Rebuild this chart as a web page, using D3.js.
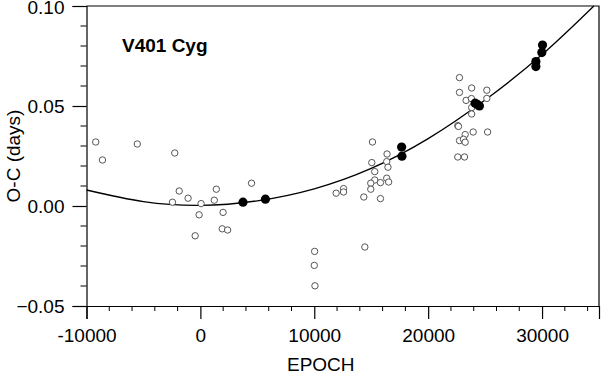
<!DOCTYPE html>
<html>
<head>
<meta charset="utf-8">
<script src="https://cdn.jsdelivr.net/npm/d3@7"></script>
<style>
  html, body { margin: 0; padding: 0; background: #fff; }
  svg { display: block; font-family: Arial, "Liberation Sans", sans-serif; }
</style>
</head>
<body>
<svg id="chart" width="601" height="374"></svg>
<script>
// open circles: [epoch, O-C]
const openEpoch = [-9190, -8600, -5540, -2250, -1860, -2450, -1080, 60, -110, -460,
  1400, 1220, 1990, 1920, 2390, 4490,
  15110, 16390, 15050, 16360, 16470, 15310, 15310, 14960, 15810, 16360, 16530, 14960,
  14350, 15810, 11920, 12570, 12570, 10030, 10000, 10060, 14440,
  22750, 22750, 23820, 25150, 23330, 23800, 25150, 23820, 23820, 22600, 22660,
  23250, 23950, 25220, 22750, 23100, 23250, 22600, 23190];
const openOC = [0.0320, 0.0230, 0.0310, 0.0265, 0.0075, 0.0019, 0.0039, 0.0012, -0.0044, -0.0149,
  0.0084, 0.0029, -0.0032, -0.0114, -0.0120, 0.0114,
  0.0320, 0.0260, 0.0217, 0.0222, 0.0194, 0.0172, 0.0130, 0.0114, 0.0117, 0.0139, 0.0120, 0.0084,
  0.0045, 0.0037, 0.0064, 0.0087, 0.0070, -0.0227, -0.0297, -0.0399, -0.0205,
  0.0642, 0.0568, 0.0590, 0.0579, 0.0528, 0.0537, 0.0538, 0.0492, 0.0460, 0.0402, 0.0398,
  0.0357, 0.0370, 0.0370, 0.0327, 0.0334, 0.0319, 0.0245, 0.0245];

// filled circles
const fillEpoch = [3740, 5710, 17670, 17700, 24120, 24320, 24500, 30040, 29980, 29460, 29460];
const fillOC = [0.0019, 0.0034, 0.0295, 0.0249, 0.0514, 0.0508, 0.0500, 0.0805, 0.0767, 0.0722, 0.0697];

// fitted curve
const fitEpoch = [-10000, -5000, 0, 5000, 10000, 15000, 20000, 25000, 30000, 34550];
const fitOC = [0.0080, 0.0022, 0.0003, 0.0026, 0.0086, 0.0188, 0.0337, 0.0530, 0.0757, 0.1000];

const xMajor = [-10000, 0, 10000, 20000, 30000];
const yMajor = [-0.05, 0.00, 0.05, 0.10];

const margin = { top: 6, right: 2, bottom: 68, left: 86.5 };
const width = 601, height = 374;
const innerW = width - margin.left - margin.right;
const innerH = height - margin.top - margin.bottom;

const svg = d3.select("#chart");
const g = svg.append("g").attr("transform", `translate(${margin.left},${margin.top})`);

const x = d3.scaleLinear().domain([-10000, 35000]).range([0, innerW]);
const y = d3.scaleLinear().domain([-0.05, 0.10]).range([innerH, 0]);

// frame (top and right)
g.append("path")
  .attr("d", `M0,0H${innerW}V${innerH}`)
  .attr("fill", "none")
  .attr("stroke", "#000")
  .attr("stroke-width", 1.2);

// minor ticks
const xMinor = d3.range(-10000, 35001, 2000).filter((v) => !xMajor.includes(v));
const yMinor = d3.range(-5, 11, 1).map((v) => v / 100).filter((v) => !yMajor.some((m) => Math.abs(m - v) < 1e-9));

const xAxis = g.append("g")
  .attr("transform", `translate(0,${innerH})`)
  .call(d3.axisBottom(x).tickValues(xMajor).tickSize(13).tickPadding(10).tickFormat(d3.format("d")));
xAxis.append("g").selectAll("line").data(xMinor).join("line")
  .attr("x1", (d) => x(d)).attr("x2", (d) => x(d))
  .attr("y1", 0).attr("y2", 5)
  .attr("stroke", "#000");

const yAxis = g.append("g")
  .call(d3.axisLeft(y).tickValues(yMajor).tickSize(14).tickPadding(8).tickFormat(d3.format(".2f")));
yAxis.append("g").selectAll("line").data(yMinor).join("line")
  .attr("x1", 0).attr("x2", -6)
  .attr("y1", (d) => y(d)).attr("y2", (d) => y(d))
  .attr("stroke", "#000");

[xAxis, yAxis].forEach((ax) => {
  ax.select(".domain").attr("stroke-width", 1.2);
  ax.selectAll(".tick line").attr("stroke-width", 1.2);
  ax.selectAll(".tick text").attr("font-size", 19).attr("fill", "#000")
    .style("font-family", "Arial, 'Liberation Sans', sans-serif");
});
xAxis.selectAll(".tick text").text((d) => (d < 0 ? "-" : "") + Math.abs(d));
// keep the top label inside the page
yAxis.selectAll(".tick text").attr("dy", (d) => (d === 0.10 ? "0.40em" : "0.32em"));

// fitted curve
const line = d3.line().x((d) => x(d[0])).y((d) => y(d[1])).curve(d3.curveNatural);
g.append("path")
  .datum(fitEpoch.map((e, i) => [e, fitOC[i]]))
  .attr("d", line)
  .attr("fill", "none")
  .attr("stroke", "#000")
  .attr("stroke-width", 1.3);

// points
g.append("g").selectAll("circle")
  .data(openEpoch.map((e, i) => [e, openOC[i]]))
  .join("circle")
  .attr("cx", (d) => x(d[0]))
  .attr("cy", (d) => y(d[1]))
  .attr("r", 3.2)
  .attr("fill", "#fff")
  .attr("stroke", "#444")
  .attr("stroke-width", 0.9);

g.append("g").selectAll("circle")
  .data(fillEpoch.map((e, i) => [e, fillOC[i]]))
  .join("circle")
  .attr("cx", (d) => x(d[0]))
  .attr("cy", (d) => y(d[1]))
  .attr("r", 4.6)
  .attr("fill", "#000");

// labels
svg.append("text")
  .attr("x", 122).attr("y", 52)
  .attr("font-size", 19).attr("font-weight", "bold")
  .text("V401 Cyg");

svg.append("text")
  .attr("x", margin.left + innerW / 2 - 22).attr("y", 371)
  .attr("text-anchor", "middle")
  .attr("font-size", 19)
  .text("EPOCH");

svg.append("text")
  .attr("transform", "translate(20,156) rotate(-90)")
  .attr("text-anchor", "middle")
  .attr("font-size", 19)
  .text("O-C (days)");
</script>
</body>
</html>
